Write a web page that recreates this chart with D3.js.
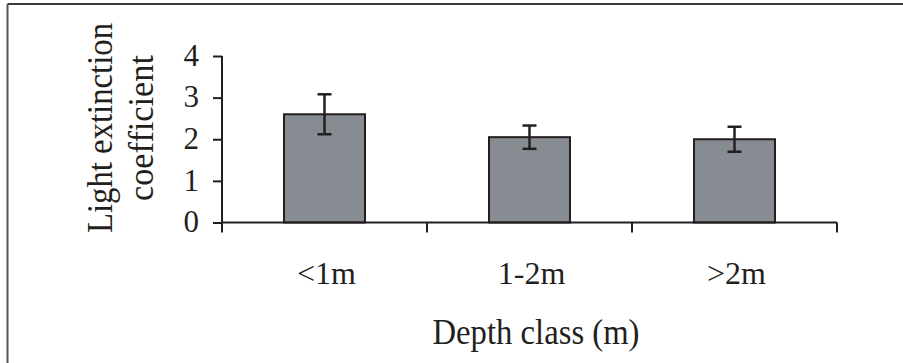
<!DOCTYPE html>
<html>
<head>
<meta charset="utf-8">
<script src="https://cdn.jsdelivr.net/npm/d3@7"></script>
<style>
  html, body { margin: 0; padding: 0; background: #fff; }
  svg { display: block; }
  text { font-family: "Liberation Serif", "Times New Roman", serif; fill: #231f20; }
</style>
</head>
<body>
<svg id="chart" width="903" height="363"></svg>
<script>
const categories = ["<1m", "1-2m", ">2m"];
const values = [2.6, 2.05, 2.0];
const errors = [0.48, 0.28, 0.30];
const yTicks = [0, 1, 2, 3, 4];
const xTitle = "Depth class (m)";
const yTitleLines = ["Light extinction", "coefficient"];

const svg = d3.select("#chart");
const ink = "#231f20";

// frame (top and left edges)
svg.append("line").attr("x1", 7.5).attr("x2", 903).attr("y1", 4).attr("y2", 4)
  .attr("stroke", "#3a3a3a").attr("stroke-width", 2);
svg.append("line").attr("x1", 7.5).attr("x2", 7.5).attr("y1", 4).attr("y2", 363)
  .attr("stroke", "#555").attr("stroke-width", 2);

const x = d3.scaleBand().domain(categories).range([222, 837]).padding(0);
const y = d3.scaleLinear().domain([0, 4]).range([222.5, 56]);

const barW = x.bandwidth() * 0.395;

// bars
svg.append("g").selectAll("rect").data(categories).join("rect")
  .attr("x", (d) => x(d) + x.bandwidth() / 2 - barW / 2)
  .attr("y", (d, i) => y(values[i]))
  .attr("width", barW)
  .attr("height", (d, i) => y(0) - y(values[i]))
  .attr("fill", "#878c92")
  .attr("stroke", ink)
  .attr("stroke-width", 2);

// error bars
const eg = svg.append("g").attr("stroke", ink).attr("stroke-width", 2.5);
categories.forEach((c, i) => {
  const cx = x(c) + x.bandwidth() / 2;
  const hi = y(values[i] + errors[i]);
  const lo = y(values[i] - errors[i]);
  eg.append("line").attr("x1", cx).attr("x2", cx).attr("y1", hi).attr("y2", lo);
  eg.append("line").attr("x1", cx - 7).attr("x2", cx + 7).attr("y1", hi).attr("y2", hi);
  eg.append("line").attr("x1", cx - 7).attr("x2", cx + 7).attr("y1", lo).attr("y2", lo);
});

// y axis
const yAxis = d3.axisLeft(y).tickValues(yTicks).tickFormat(d3.format("d")).tickSize(9).tickPadding(14);
const yg = svg.append("g").attr("transform", "translate(222,0)").call(yAxis);
yg.select(".domain").remove();
yg.selectAll(".tick line").attr("stroke", ink).attr("stroke-width", 2);
yg.selectAll(".tick text").attr("font-size", 31).attr("font-family", "Liberation Serif, serif")
  .attr("fill", ink).attr("dy", "0.3em");
svg.append("line").attr("x1", 222).attr("x2", 222).attr("y1", y(4)).attr("y2", y(0) + 10)
  .attr("stroke", ink).attr("stroke-width", 2);

// x axis
svg.append("line").attr("x1", 222).attr("x2", 837).attr("y1", y(0)).attr("y2", y(0))
  .attr("stroke", ink).attr("stroke-width", 2);
const bounds = categories.map((c) => x(c)).concat([x(categories[categories.length - 1]) + x.bandwidth()]);
svg.append("g").selectAll("line").data(bounds.slice(1)).join("line")
  .attr("x1", (d) => d).attr("x2", (d) => d)
  .attr("y1", y(0)).attr("y2", y(0) + 10)
  .attr("stroke", ink).attr("stroke-width", 2);

svg.append("g").selectAll("text").data(categories).join("text")
  .attr("x", (d) => x(d) + x.bandwidth() / 2 + 2)
  .attr("y", 284)
  .attr("text-anchor", "middle")
  .attr("font-size", 32)
  .text((d) => d);

// x title
svg.append("text").attr("x", 536).attr("y", 344).attr("text-anchor", "middle")
  .attr("font-size", 35).attr("textLength", 207).attr("lengthAdjust", "spacingAndGlyphs")
  .text(xTitle);

// y title
const yt = svg.append("text").attr("transform", "translate(0,128) rotate(-90)")
  .attr("text-anchor", "middle").attr("font-size", 35);
yt.append("tspan").attr("x", 0).attr("y", 112).attr("textLength", 210)
  .attr("lengthAdjust", "spacingAndGlyphs").text(yTitleLines[0]);
yt.append("tspan").attr("x", 0).attr("y", 153).attr("textLength", 146)
  .attr("lengthAdjust", "spacingAndGlyphs").text(yTitleLines[1]);
</script>
</body>
</html>
